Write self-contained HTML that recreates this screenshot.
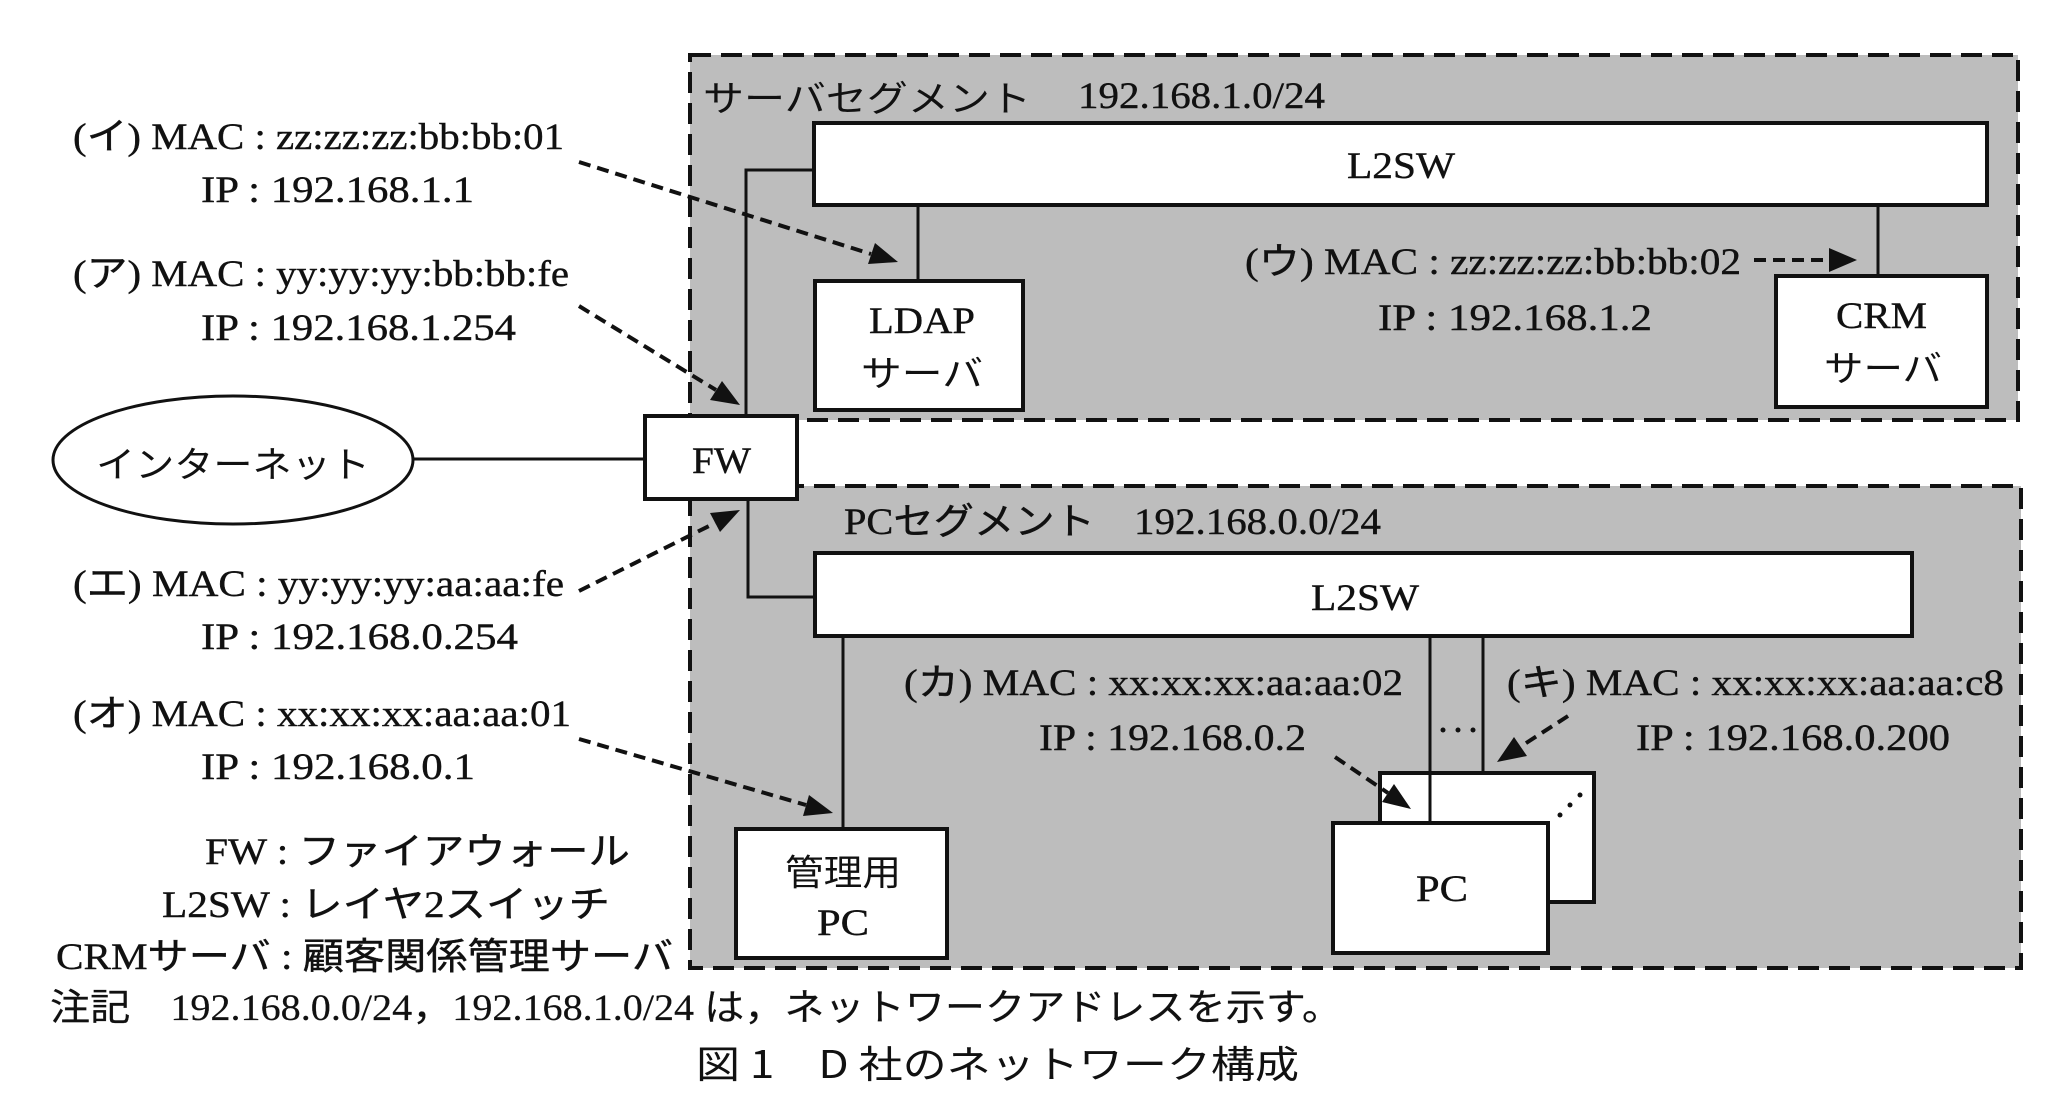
<!DOCTYPE html>
<html><head><meta charset="utf-8">
<style>
html,body{margin:0;padding:0;background:#fff;}
svg{display:block;}
.t{font-family:"Liberation Serif","Noto Sans CJK JP",serif;font-size:37px;fill:#111;stroke:#111;stroke-width:0.4;}
.j{font-family:"Noto Sans CJK JP","Liberation Sans",sans-serif;font-size:36px;fill:#111;}
.g{font-family:"Noto Sans CJK JP","Liberation Sans",sans-serif;font-size:38px;fill:#111;}
</style></head>
<body>
<svg width="2070" height="1102" viewBox="0 0 2070 1102" xmlns="http://www.w3.org/2000/svg">
<!-- segments -->
<rect x="690" y="55" width="1328" height="365" fill="#bdbdbd" stroke="#111" stroke-width="4" stroke-dasharray="21 10"/>
<rect x="690" y="486" width="1331" height="482" fill="#bdbdbd" stroke="#111" stroke-width="4" stroke-dasharray="21 10"/>

<!-- connection lines -->
<g stroke="#111" stroke-width="3" fill="none">
<polyline points="746,416 746,170 815,170"/>
<polyline points="748,499 748,597 815,597"/>
<line x1="413" y1="459" x2="645" y2="459"/>
<line x1="918" y1="205" x2="918" y2="281"/>
<line x1="1878" y1="205" x2="1878" y2="276"/>
<line x1="843" y1="636" x2="843" y2="829"/>
<line x1="1483" y1="636" x2="1483" y2="773"/>
</g>

<!-- boxes -->
<g stroke="#111" stroke-width="4" fill="#fff">
<rect x="814" y="123" width="1173" height="82"/>
<rect x="815" y="281" width="208" height="129"/>
<rect x="1776" y="276" width="211" height="131"/>
<rect x="645" y="416" width="152" height="83"/>
<rect x="815" y="553" width="1097" height="83"/>
<rect x="736" y="829" width="211" height="129"/>
<rect x="1380" y="773" width="214" height="129"/>
</g>
<line x1="1430" y1="636" x2="1430" y2="823" stroke="#111" stroke-width="3"/>
<rect x="1333" y="823" width="215" height="130" stroke="#111" stroke-width="4" fill="#fff"/>
<ellipse cx="233" cy="460" rx="180" ry="64" fill="#fff" stroke="#111" stroke-width="3"/>

<!-- dots -->
<g fill="#111">
<circle cx="1443" cy="730" r="2.5"/><circle cx="1458" cy="730" r="2.5"/><circle cx="1473" cy="730" r="2.5"/>
<circle cx="1560" cy="815" r="2.5"/><circle cx="1570" cy="805" r="2.5"/><circle cx="1580" cy="795" r="2.5"/>
</g>

<!-- dashed arrows -->
<g stroke="#111" stroke-width="4" stroke-dasharray="12 7" fill="none">
<line x1="579" y1="162" x2="871" y2="254"/>
<line x1="579" y1="306" x2="716" y2="390"/>
<line x1="579" y1="591" x2="715" y2="523"/>
<line x1="579" y1="739" x2="806" y2="805"/>
<line x1="1754" y1="260" x2="1829" y2="260"/>
<line x1="1335" y1="757" x2="1388" y2="793"/>
<line x1="1568" y1="716" x2="1520" y2="747"/>
</g>
<g fill="#111">
<polygon points="898,262 868,264 875,243"/>
<polygon points="740,405 710,400 722,381"/>
<polygon points="740,510 720,532 710,513"/>
<polygon points="833,813 803,816 809,795"/>
<polygon points="1857,260 1829,272 1829,248"/>
<polygon points="1411,809 1382,802 1394,784"/>
<polygon points="1497,762 1514,737 1527,756"/>
</g>

<!-- left labels -->
<text class="t" x="73" y="149" textLength="491" lengthAdjust="spacingAndGlyphs">(イ) MAC : zz:zz:zz:bb:bb:01</text>
<text class="t" x="201" y="202" textLength="273" lengthAdjust="spacingAndGlyphs">IP : 192.168.1.1</text>
<text class="t" x="73" y="286" textLength="496" lengthAdjust="spacingAndGlyphs">(ア) MAC : yy:yy:yy:bb:bb:fe</text>
<text class="t" x="201" y="340" textLength="315" lengthAdjust="spacingAndGlyphs">IP : 192.168.1.254</text>
<text class="t" x="73" y="596" textLength="491" lengthAdjust="spacingAndGlyphs">(エ) MAC : yy:yy:yy:aa:aa:fe</text>
<text class="t" x="201" y="649" textLength="317" lengthAdjust="spacingAndGlyphs">IP : 192.168.0.254</text>
<text class="t" x="73" y="726" textLength="498" lengthAdjust="spacingAndGlyphs">(オ) MAC : xx:xx:xx:aa:aa:01</text>
<text class="t" x="201" y="779" textLength="274" lengthAdjust="spacingAndGlyphs">IP : 192.168.0.1</text>

<text class="t" x="205" y="864" textLength="425" lengthAdjust="spacingAndGlyphs">FW : ファイアウォール</text>
<text class="t" x="162" y="917" textLength="448" lengthAdjust="spacingAndGlyphs">L2SW : レイヤ2スイッチ</text>
<text class="t" x="56" y="969" textLength="617" lengthAdjust="spacingAndGlyphs">CRMサーバ : 顧客関係管理サーバ</text>
<text class="t" x="50" y="1020" textLength="1292" lengthAdjust="spacingAndGlyphs" style="stroke-width:0.2">注記　192.168.0.0/24，192.168.1.0/24 は，ネットワークアドレスを示す。</text>
<text class="g" x="696" y="1078" textLength="603" lengthAdjust="spacingAndGlyphs">図 1　D 社のネットワーク構成</text>

<text class="j" x="96" y="477" textLength="274" lengthAdjust="spacingAndGlyphs">インターネット</text>
<text class="t" x="692" y="473" textLength="59" lengthAdjust="spacingAndGlyphs">FW</text>

<!-- server segment -->
<text class="j" x="703" y="111" textLength="328" lengthAdjust="spacingAndGlyphs">サーバセグメント</text>
<text class="t" x="1078" y="108" textLength="247" lengthAdjust="spacingAndGlyphs">192.168.1.0/24</text>
<text class="t" x="1347" y="178" textLength="108" lengthAdjust="spacingAndGlyphs">L2SW</text>
<text class="t" x="869" y="333" textLength="106" lengthAdjust="spacingAndGlyphs">LDAP</text>
<text class="j" x="861" y="386" textLength="122" lengthAdjust="spacingAndGlyphs">サーバ</text>
<text class="t" x="1245" y="274" textLength="496" lengthAdjust="spacingAndGlyphs">(ウ) MAC : zz:zz:zz:bb:bb:02</text>
<text class="t" x="1378" y="330" textLength="274" lengthAdjust="spacingAndGlyphs">IP : 192.168.1.2</text>
<text class="t" x="1836" y="328" textLength="91" lengthAdjust="spacingAndGlyphs">CRM</text>
<text class="j" x="1824" y="381" textLength="118" lengthAdjust="spacingAndGlyphs">サーバ</text>

<!-- PC segment -->
<text class="t" x="844" y="534" textLength="251" lengthAdjust="spacingAndGlyphs">PCセグメント</text>
<text class="t" x="1134" y="534" textLength="247" lengthAdjust="spacingAndGlyphs">192.168.0.0/24</text>
<text class="t" x="1311" y="610" textLength="108" lengthAdjust="spacingAndGlyphs">L2SW</text>
<text class="t" x="904" y="695" textLength="499" lengthAdjust="spacingAndGlyphs">(カ) MAC : xx:xx:xx:aa:aa:02</text>
<text class="t" x="1039" y="750" textLength="267" lengthAdjust="spacingAndGlyphs">IP : 192.168.0.2</text>
<text class="t" x="1507" y="695" textLength="497" lengthAdjust="spacingAndGlyphs">(キ) MAC : xx:xx:xx:aa:aa:c8</text>
<text class="t" x="1636" y="750" textLength="314" lengthAdjust="spacingAndGlyphs">IP : 192.168.0.200</text>
<text class="j" x="785" y="885" textLength="116" lengthAdjust="spacingAndGlyphs">管理用</text>
<text class="t" x="817" y="935" textLength="52" lengthAdjust="spacingAndGlyphs">PC</text>
<text class="t" x="1416" y="901" textLength="52" lengthAdjust="spacingAndGlyphs">PC</text>
</svg>
</body></html>
